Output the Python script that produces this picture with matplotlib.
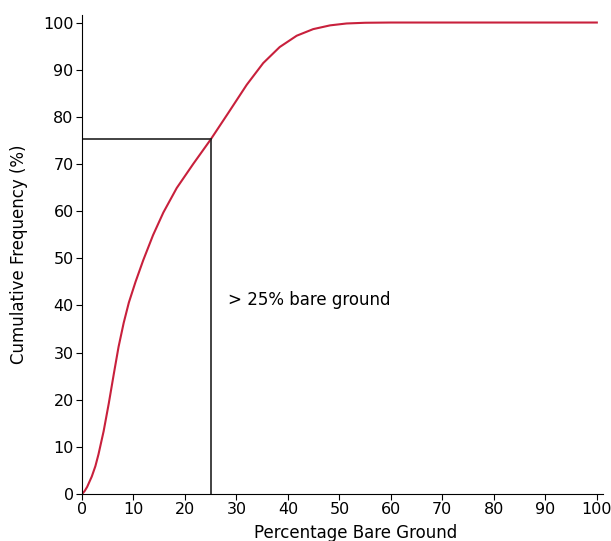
import matplotlib
matplotlib.use('Agg')
import matplotlib.pyplot as plt
import numpy as np

# Cumulative frequency curve
bare_ground = [0, 0.5, 1.0, 1.9, 2.6, 3.2, 4.2, 5.2, 6.2, 7.1, 8.1, 9.1, 10.4, 11.9, 13.8,
               15.8, 18.4, 21.6, 25.0, 28.4, 32.0, 35.2, 38.4, 41.7, 44.9, 48.2, 51.4,
               55.0, 60.0, 70.0, 80.0, 90.0, 100.0]
cum_freq = [0, 0.6, 1.5, 3.7, 5.9, 8.4, 13.3, 19.2, 25.6, 31.2, 36.3, 40.6, 45.0, 49.6,
            54.9, 59.7, 64.9, 70.0, 75.2, 80.8, 86.8, 91.4, 94.8, 97.2, 98.6, 99.4,
            99.8, 99.95, 100.0, 100.0, 100.0, 100.0, 100.0]

threshold_x = 25
threshold_y = 75.3
annotation = '> 25% bare ground'

fig = plt.figure(figsize=(6.11, 5.41), dpi=100)
ax = fig.add_axes([0.1342, 0.0869, 0.8527, 0.8854])

ax.plot(bare_ground, cum_freq, color='#c8203c', lw=1.5, solid_joinstyle='round')

# threshold guide lines
ax.plot([0, threshold_x], [threshold_y, threshold_y], color='#222222', lw=1.2)
ax.plot([threshold_x, threshold_x], [0, threshold_y], color='#222222', lw=1.2)
ax.text(28.3, 41.2, annotation, fontsize=12, va='center', ha='left')

ax.set_xlim(0, 101.2)
ax.set_ylim(0, 101.6)
ax.set_xticks(np.arange(0, 101, 10))
ax.set_yticks(np.arange(0, 101, 10))
ax.tick_params(labelsize=11.5, length=4, pad=2)
ax.spines['top'].set_visible(False)
ax.spines['right'].set_visible(False)

ax.set_xlabel('Percentage Bare Ground', fontsize=12)
ax.set_ylabel('Cumulative Frequency (%)', fontsize=12)
ax.xaxis.set_label_coords(0.525, -0.062)
ax.yaxis.set_label_coords(-0.104, 0.5)

plt.savefig('out.png', dpi=100)
